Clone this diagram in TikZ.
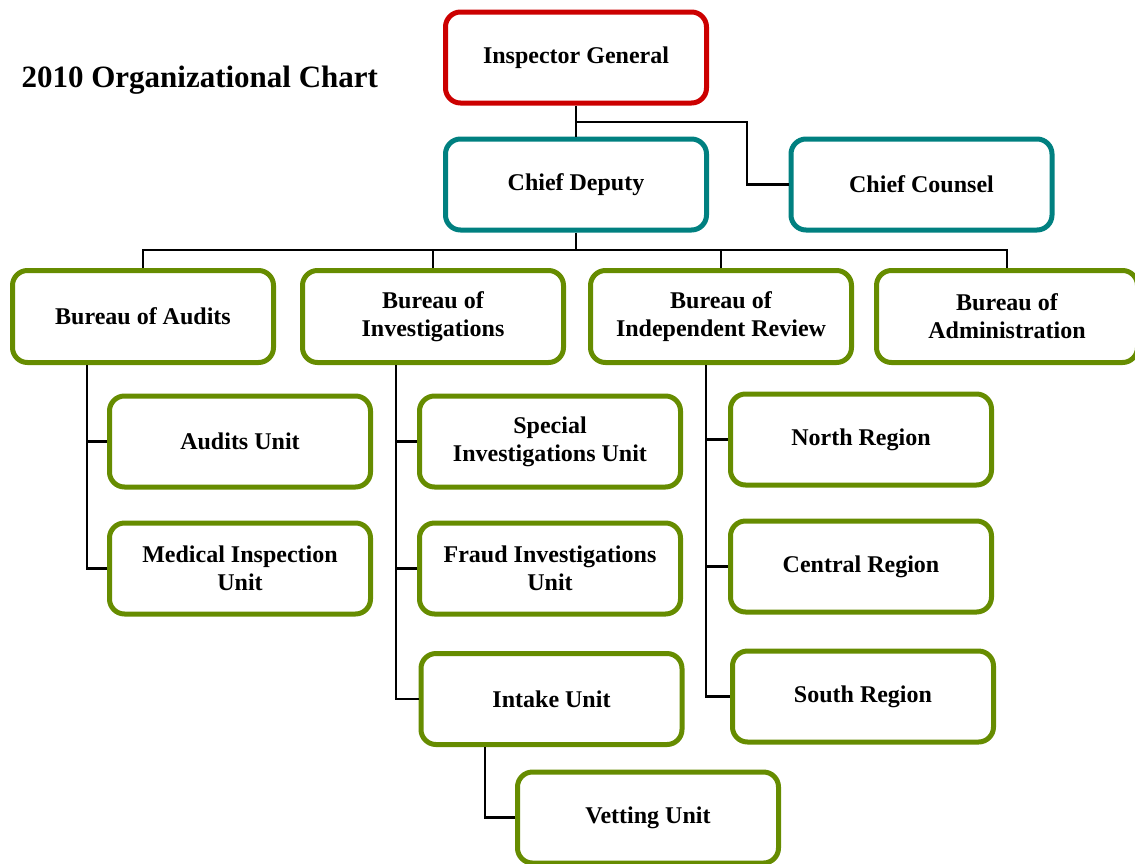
\documentclass[tikz,border=0pt]{standalone}
\usepackage{fontspec}
\setmainfont{Liberation Serif}
\definecolor{igred}{RGB}{204,0,0}
\definecolor{teal2}{RGB}{0,128,128}
\definecolor{olive2}{RGB}{102,140,0}
\begin{document}
\begin{tikzpicture}[x=1pt,y=-1pt,
  box/.style={draw, rounded corners=15pt, line width=5pt, fill=white,
    minimum width=261pt, minimum height=91pt, align=center,
    font=\fontsize{24}{28}\selectfont\bfseries, inner sep=2pt},
  redbox/.style={box, draw=igred},
  tealbox/.style={box, draw=teal2},
  greenbox/.style={box, draw=olive2},
  conn/.style={draw=black, line width=2.6pt}]
\useasboundingbox (0,0) rectangle (1135,863);
% title
\node[anchor=west, font=\fontsize{31}{36}\selectfont\bfseries] (title) at (18,80) {2010 Organizational Chart};
% connectors first
\coordinate (j1) at (576,122);
\coordinate (j2) at (747,184.5);
\coordinate (bus) at (576,250);
% nodes
\node[redbox] (IG) at (576,57.5) {Inspector General};
\node[tealbox] (CD) at (576,184.5) {Chief Deputy};
\node[tealbox] (CC) at (921.5,184.5) {Chief Counsel};
\node[greenbox, minimum height=92pt] (BA) at (143,316.5) {Bureau of Audits};
\node[greenbox, minimum height=92pt] (BI) at (433,316.5) {Bureau of\\Investigations};
\node[greenbox, minimum height=92pt] (BIR) at (721,316.5) {Bureau of\\Independent Review};
\node[greenbox, minimum height=92pt] (BAd) at (1007,316.5) {Bureau of\\Administration};
\node[greenbox] (AU) at (240,441.5) {Audits Unit};
\node[greenbox] (MIU) at (240,568.5) {Medical Inspection\\Unit};
\node[greenbox] (SIU) at (550,441.5) {Special\\Investigations Unit};
\node[greenbox] (FIU) at (550,568.5) {Fraud Investigations\\Unit};
\node[greenbox] (IU) at (551.5,699) {Intake Unit};
\node[greenbox] (VU) at (648,817.5) {Vetting Unit};
\node[greenbox] (NR) at (861,439.5) {North Region};
\node[greenbox] (CR) at (861,566.5) {Central Region};
\node[greenbox] (SR) at (863,696.5) {South Region};
% connectors
\begin{scope}[on background layer/.try]
\end{scope}
\path[conn] (IG.south) -- (CD.north);
\path[conn] (j1) -| (j2) -- (CC.west);
\path[conn] (CD.south) -- (bus);
\path[conn] (BA.north) |- (BAd.north |- bus) -- (BAd.north);
\path[conn] (BI.north) -- (BI.north |- bus);
\path[conn] (BIR.north) -- (BIR.north |- bus);
\path[conn] ([xshift=-56pt]BA.south) |- (AU.west);
\path[conn] ([xshift=-56pt]BA.south) |- (MIU.west);
\path[conn] ([xshift=-37pt]BI.south) |- (SIU.west);
\path[conn] ([xshift=-37pt]BI.south) |- (FIU.west);
\path[conn] ([xshift=-37pt]BI.south) |- (IU.west);
\path[conn] ([xshift=-66.5pt]IU.south) |- (VU.west);
\path[conn] ([xshift=-15pt]BIR.south) |- (NR.west);
\path[conn] ([xshift=-15pt]BIR.south) |- (CR.west);
\path[conn] ([xshift=-15pt]BIR.south) |- (SR.west);
\end{tikzpicture}
\end{document}
